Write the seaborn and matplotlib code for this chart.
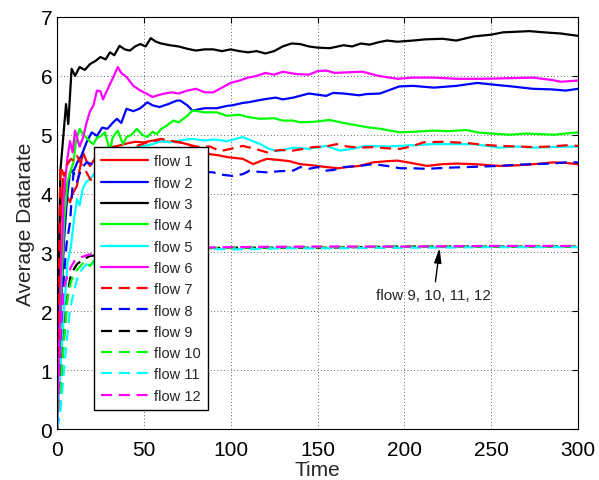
import numpy as np
import seaborn as sns
import matplotlib as mpl
mpl.use('Agg')
import matplotlib.pyplot as plt

# flow 1 .. 6 solid, flow 7 .. 12 dashed
t1 = [0, 1, 2, 3.5, 5, 7.5, 9, 11.5, 13, 15, 17, 19, 22, 26, 30, 35, 40, 45, 50, 55, 59, 65, 71, 76, 82,
      88, 93, 98, 107, 113, 117, 121, 128, 134, 140, 147, 155, 162, 167, 174, 182, 190, 196, 204, 213,
      222, 230, 240, 255, 265, 275, 286, 293, 300]
v1 = [0, 2.0, 3.5, 4.25, 4.0, 3.85, 4.0, 4.13, 4.4, 4.7, 4.55, 4.47, 4.6, 4.7, 4.78, 4.81, 4.85, 4.88,
      4.87, 4.9, 4.89, 4.88, 4.87, 4.83, 4.76, 4.67, 4.65, 4.62, 4.59, 4.5, 4.55, 4.59, 4.57, 4.55, 4.5,
      4.48, 4.45, 4.43, 4.45, 4.47, 4.53, 4.55, 4.56, 4.52, 4.47, 4.5, 4.51, 4.5, 4.47, 4.48, 4.5, 4.53,
      4.52, 4.5]

t2 = [0, 2, 4, 6, 7.5, 9.8, 12, 14, 17, 20, 23, 26, 29, 32, 34.5, 37, 40, 44, 48, 52, 55, 59, 64, 69, 71,
      75, 78, 85, 92, 98, 101, 107, 110, 117, 121, 126, 130, 136, 145, 155, 159, 165, 174, 178, 186, 197,
      205, 217, 230, 242, 255, 262, 274, 285, 293, 300]
v2 = [0, 1.8, 3.2, 4.0, 4.36, 4.4, 4.55, 4.64, 4.87, 5.04, 4.98, 5.12, 5.1, 5.2, 5.27, 5.2, 5.44, 5.4,
      5.45, 5.55, 5.5, 5.47, 5.52, 5.58, 5.58, 5.5, 5.41, 5.45, 5.45, 5.49, 5.5, 5.54, 5.55, 5.59, 5.61,
      5.63, 5.6, 5.63, 5.7, 5.66, 5.71, 5.7, 5.67, 5.69, 5.7, 5.82, 5.83, 5.8, 5.83, 5.88, 5.84, 5.82,
      5.78, 5.77, 5.75, 5.78]

t3 = [0, 1, 2, 3.6, 5.2, 6.5, 8.4, 10.4, 13, 16, 19, 22, 25, 28, 30.5, 33, 36, 39, 42, 45, 48, 51, 54, 57,
      60, 65, 70, 75, 80, 85, 90, 95, 100, 105, 110, 115, 120, 125, 130, 135, 140, 145, 150, 157, 165,
      170, 175, 180, 185, 190, 196, 205, 212, 222, 230, 240, 250, 257, 265, 272, 280, 290, 300]
v3 = [0, 2.8, 4.4, 4.96, 5.52, 5.18, 6.12, 6.0, 6.15, 6.1, 6.2, 6.25, 6.32, 6.28, 6.4, 6.35, 6.51, 6.45,
      6.43, 6.5, 6.54, 6.5, 6.64, 6.58, 6.55, 6.52, 6.5, 6.46, 6.43, 6.45, 6.45, 6.42, 6.45, 6.42, 6.4,
      6.42, 6.38, 6.42, 6.5, 6.55, 6.54, 6.5, 6.48, 6.47, 6.52, 6.5, 6.55, 6.53, 6.57, 6.6, 6.58, 6.6,
      6.62, 6.63, 6.6, 6.67, 6.7, 6.74, 6.75, 6.76, 6.74, 6.72, 6.68]

t4 = [0, 2, 4, 6, 8, 9.5, 11, 13, 15, 17, 19, 21, 23, 25, 27.6, 30.5, 32, 35, 38, 40, 43, 46, 49, 52, 55,
      57.5, 60, 63, 67, 70, 75, 78, 81, 85, 92, 98, 105, 110, 117, 125, 130, 136, 140, 148, 157, 165,
      178, 186, 197.5, 205, 217, 225, 236, 242, 250, 261, 270, 286, 300]
v4 = [0, 2.0, 3.5, 4.2, 4.4, 4.53, 4.9, 5.1, 5.01, 4.95, 4.88, 4.84, 4.95, 4.97, 5.04, 4.72, 4.95, 5.07,
      4.84, 4.96, 5.0, 5.1, 5.0, 4.96, 5.05, 5.01, 5.1, 5.15, 5.24, 5.21, 5.32, 5.41, 5.4, 5.38, 5.38,
      5.32, 5.34, 5.3, 5.27, 5.28, 5.24, 5.24, 5.21, 5.22, 5.25, 5.2, 5.13, 5.1, 5.04, 5.05, 5.07, 5.06,
      5.08, 5.04, 5.02, 5.0, 5.02, 5.0, 5.04]

t5 = [0, 2, 4, 6, 8, 10, 11.5, 13, 15, 17, 19, 22, 26, 30, 35, 40, 45, 50, 55, 60, 65, 70, 78, 85, 90, 98,
      103, 107, 112, 117, 122, 127, 136, 145, 155, 163, 170, 178, 190, 197.5, 210, 217, 230, 240, 255,
      265, 274, 285, 300]
v5 = [0, 1.0, 2.0, 2.8, 3.1, 3.6, 3.9, 3.8, 4.1, 4.2, 4.25, 4.35, 4.45, 4.55, 4.62, 4.7, 4.78, 4.81,
      4.84, 4.89, 4.87, 4.9, 4.93, 4.9, 4.92, 4.89, 4.93, 4.96, 4.9, 4.84, 4.76, 4.72, 4.78, 4.76, 4.81,
      4.73, 4.76, 4.81, 4.8, 4.81, 4.83, 4.84, 4.84, 4.84, 4.78, 4.8, 4.78, 4.79, 4.8]

t6 = [0, 2, 4, 6, 7.5, 9, 10.4, 12, 13, 15, 17, 19, 21, 23, 25, 26.5, 28, 30.5, 32, 35, 37, 40, 44, 48,
      52, 55, 58, 62, 66, 70, 75, 80, 85, 90, 95, 100, 105, 110, 115, 120, 125, 130, 138, 145, 150, 155,
      160, 167, 176, 185, 196, 205, 217, 230, 245, 260, 274, 285, 290, 300]
v6 = [0, 2.5, 4.0, 4.6, 4.89, 4.7, 5.07, 4.9, 4.8, 4.95, 5.2, 5.4, 5.5, 5.75, 5.74, 5.6, 5.7, 5.86, 5.95,
      6.15, 6.05, 5.98, 5.83, 5.75, 5.69, 5.64, 5.67, 5.7, 5.72, 5.7, 5.75, 5.78, 5.72, 5.72, 5.8, 5.88,
      5.92, 5.97, 6.0, 6.05, 6.02, 6.07, 6.03, 6.02, 6.08, 6.09, 6.05, 6.06, 6.07, 6.0, 5.95, 5.97, 5.97,
      5.95, 5.95, 5.96, 5.97, 5.93, 5.9, 5.92]

t7 = [0, 1, 2, 4, 6, 8, 10, 11.5, 14, 17, 19, 21, 25, 30, 35, 40, 45, 50, 55, 60, 65, 71, 77, 82, 88, 94,
      100, 107, 114, 121, 128, 136, 142, 147.5, 155, 161, 167, 174, 182, 190, 197.5, 204, 211, 222, 236,
      245, 255, 265, 274, 285, 293, 300]
v7 = [0, 2.5, 4.47, 4.3, 4.5, 4.59, 4.55, 4.64, 4.5, 4.36, 4.25, 4.19, 4.35, 4.5, 4.6, 4.7, 4.8, 4.85,
      4.9, 4.93, 4.9, 4.87, 4.82, 4.79, 4.8, 4.72, 4.76, 4.81, 4.76, 4.7, 4.74, 4.73, 4.76, 4.79, 4.8,
      4.84, 4.8, 4.78, 4.79, 4.77, 4.76, 4.8, 4.87, 4.88, 4.86, 4.83, 4.81, 4.8, 4.79, 4.8, 4.82, 4.81]

t8 = [0, 2, 4, 5.6, 7.5, 9.5, 11.5, 14, 17, 20, 25, 30, 40, 50, 60, 70, 80, 90, 95, 101, 107, 111, 116,
      121, 128, 136, 140, 145, 150, 155, 159, 165, 174, 182, 190, 197.5, 205, 213, 225, 236, 245, 255,
      265, 274, 285, 293, 300]
v8 = [0, 1.5, 2.6, 3.17, 3.51, 4.36, 4.2, 4.42, 4.53, 4.5, 4.45, 4.4, 4.38, 4.35, 4.33, 4.35, 4.38, 4.36,
      4.32, 4.3, 4.33, 4.39, 4.37, 4.36, 4.38, 4.39, 4.45, 4.42, 4.45, 4.39, 4.4, 4.45, 4.47, 4.5, 4.47,
      4.43, 4.43, 4.42, 4.44, 4.45, 4.46, 4.47, 4.49, 4.5, 4.51, 4.53, 4.53]

t9 = [0, 1.7, 3.5, 5.6, 7.5, 9, 11.5, 15, 19, 22, 30, 50, 80, 100, 150, 200, 250, 300]
v9 = [0, 0.56, 1.36, 2.16, 2.55, 2.68, 2.8, 2.88, 2.94, 2.95, 3.0, 3.05, 3.07, 3.08, 3.08, 3.1, 3.1, 3.1]

t10 = [0, 2, 4, 6, 8, 10, 13, 16, 19, 21, 25, 30, 50, 80, 100, 150, 200, 250, 300]
v10 = [0, 0.7, 1.5, 2.2, 2.5, 2.65, 2.75, 2.85, 2.77, 2.85, 2.95, 3.0, 3.04, 3.07, 3.08, 3.09, 3.1, 3.1, 3.1]

t11 = [0, 1.7, 4.6, 7.5, 11.5, 14, 17, 19, 21, 25, 30, 50, 80, 90, 100, 130, 150, 200, 250, 300]
v11 = [0, 0.22, 1.19, 2.04, 2.55, 2.7, 2.8, 2.75, 2.8, 2.9, 2.95, 3.0, 3.04, 3.06, 3.05, 3.07, 3.07, 3.08,
       3.09, 3.09]

t12 = [0, 1, 2, 3, 4, 6, 8, 10, 14, 18, 22, 30, 50, 80, 100, 150, 200, 250, 300]
v12 = [0, 0.8, 1.6, 2.1, 2.4, 2.6, 2.75, 2.85, 2.92, 2.96, 2.98, 3.02, 3.05, 3.08, 3.09, 3.1, 3.1, 3.11, 3.11]

times = [t1, t2, t3, t4, t5, t6, t7, t8, t9, t10, t11, t12]
values = [v1, v2, v3, v4, v5, v6, v7, v8, v9, v10, v11, v12]
labels = ['flow %d' % (i + 1) for i in range(12)]
colors = ['#ff0000', '#0000ff', '#000000', '#00ff00', '#00ffff', '#ff00ff'] * 2

sns.set_style("white")
plt.rcParams['font.family'] = ['Liberation Sans', 'DejaVu Sans']

fig = plt.figure(figsize=(5.99, 4.81), dpi=100)
ax = fig.add_axes([57 / 599, 1 - 430 / 481, 521 / 599, 412 / 481])

for i in range(12):
    ls = '-' if i < 6 else (0, (5, 3))
    sns.lineplot(x=times[i], y=values[i], color=colors[i], linestyle=ls, linewidth=1.6,
                 label=labels[i], ax=ax)

ax.set_xlim(0, 300)
ax.set_ylim(0, 7)
ax.set_xticks(np.arange(0, 301, 50))
ax.set_yticks(np.arange(0, 8, 1))
ax.grid(True, color='#333333', linestyle=(0, (1, 3)), linewidth=0.6)
for s in ax.spines.values():
    s.set_color('black')
    s.set_linewidth(0.8)
ax.tick_params(direction='in', length=4, width=0.8, top=True, right=True, labelsize=15, colors='black')
ax.tick_params(axis='x', pad=8)
ax.set_xlabel('Time', fontsize=15, labelpad=1)
ax.set_ylabel('Average Datarate', fontsize=15, labelpad=4)

leg = ax.legend(loc='upper left', bbox_to_anchor=(0.071, 0.684), borderaxespad=0, fontsize=10.5,
                frameon=True, fancybox=False, framealpha=1, edgecolor='black',
                handlelength=3.2, handletextpad=0.4, labelspacing=0.5, borderpad=0.5)
leg.get_frame().set_linewidth(1.0)

ax.annotate('flow 9, 10, 11, 12', xy=(220.5, 3.12), xytext=(217, 2.28), ha='center', va='center',
            fontsize=11,
            arrowprops=dict(arrowstyle='-|>,head_width=0.2,head_length=0.8', color='black', lw=1))

fig.savefig('out.png', dpi=100)
